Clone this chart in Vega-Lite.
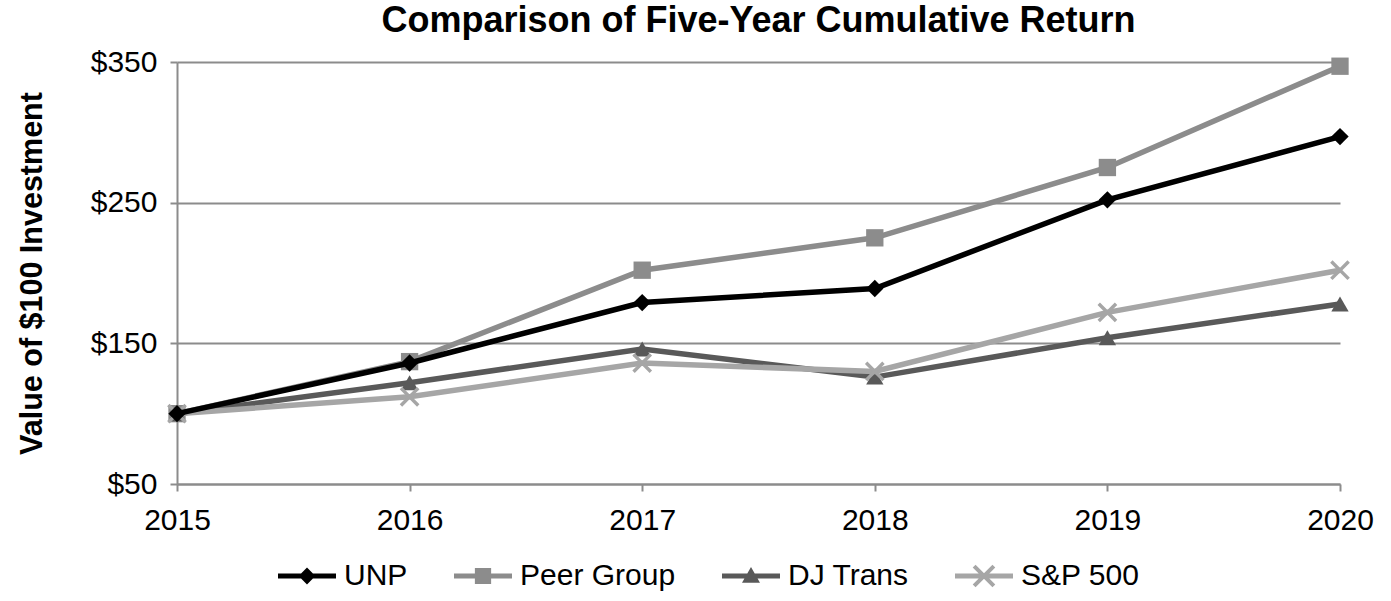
{
  "$schema": "https://vega.github.io/schema/vega-lite/v6.json",
  "autosize": "none",
  "width": 1163,
  "height": 422,
  "padding": {"left": 177, "top": 62, "right": 51, "bottom": 117},
  "background": "white",
  "config": {
    "font": "Liberation Sans",
    "view": {"stroke": null},
    "axis": {
      "labelFont": "Liberation Sans",
      "titleFont": "Liberation Sans",
      "labelColor": "#000000",
      "titleColor": "#000000",
      "domainColor": "#8c8c8c",
      "domainWidth": 2,
      "tickColor": "#8c8c8c",
      "tickWidth": 2,
      "tickSize": 7,
      "gridColor": "#8c8c8c",
      "gridWidth": 2
    },
    "legend": {
      "symbolSize": 3364,
      "symbolOpacity": 1,
      "symbolStrokeWidth": 0,
      "labelFont": "Liberation Sans",
      "labelFontSize": 30,
      "labelColor": "#000000",
      "labelOffset": 8,
      "labelLimit": 0,
      "columnPadding": 46,
      "padding": 0
    }
  },
  "title": {
    "text": "Comparison of Five-Year Cumulative Return",
    "font": "Liberation Sans",
    "fontSize": 36,
    "fontWeight": "bold",
    "color": "#000000",
    "anchor": "middle",
    "offset": 7
  },
  "data": {
    "values": [
      {"year": 2015, "series": "Peer Group", "value": 100},
      {"year": 2016, "series": "Peer Group", "value": 137},
      {"year": 2017, "series": "Peer Group", "value": 202},
      {"year": 2018, "series": "Peer Group", "value": 225},
      {"year": 2019, "series": "Peer Group", "value": 275},
      {"year": 2020, "series": "Peer Group", "value": 347},
      {"year": 2015, "series": "DJ Trans", "value": 100},
      {"year": 2016, "series": "DJ Trans", "value": 122},
      {"year": 2017, "series": "DJ Trans", "value": 146},
      {"year": 2018, "series": "DJ Trans", "value": 126},
      {"year": 2019, "series": "DJ Trans", "value": 154},
      {"year": 2020, "series": "DJ Trans", "value": 178},
      {"year": 2015, "series": "S&P 500", "value": 100},
      {"year": 2016, "series": "S&P 500", "value": 112},
      {"year": 2017, "series": "S&P 500", "value": 136},
      {"year": 2018, "series": "S&P 500", "value": 130},
      {"year": 2019, "series": "S&P 500", "value": 172},
      {"year": 2020, "series": "S&P 500", "value": 202},
      {"year": 2015, "series": "UNP", "value": 100},
      {"year": 2016, "series": "UNP", "value": 136},
      {"year": 2017, "series": "UNP", "value": 179},
      {"year": 2018, "series": "UNP", "value": 189},
      {"year": 2019, "series": "UNP", "value": 252},
      {"year": 2020, "series": "UNP", "value": 297}
    ]
  },
  "encoding": {
    "x": {
      "field": "year",
      "type": "quantitative",
      "scale": {"domain": [2015, 2020], "nice": false, "zero": false},
      "axis": {
        "title": null,
        "values": [2015, 2016, 2017, 2018, 2019, 2020],
        "format": "d",
        "grid": false,
        "labelFontSize": 30,
        "labelPadding": 14,
        "labelFlush": false
      }
    },
    "y": {
      "field": "value",
      "type": "quantitative",
      "scale": {"domain": [50, 350], "nice": false, "zero": false},
      "axis": {
        "title": "Value of $100 Investment",
        "titleFontSize": 30.5,
        "titleFontWeight": "bold",
        "titlePadding": 43,
        "values": [50, 150, 250, 350],
        "format": "$d",
        "grid": true,
        "labelFontSize": 30,
        "labelPadding": 13
      }
    }
  },
  "layer": [
    {
      "transform": [{"filter": "datum.series === 'Peer Group'"}],
      "mark": {"type": "line", "strokeWidth": 5.5, "color": "#8c8c8c"},
      "encoding": {}
    },
    {
      "transform": [{"filter": "datum.series === 'Peer Group'"}],
      "mark": {"type": "point", "filled": true, "opacity": 1, "size": 300, "shape": "square", "color": "#8c8c8c"},
      "encoding": {}
    },
    {
      "transform": [{"filter": "datum.series === 'DJ Trans'"}],
      "mark": {"type": "line", "strokeWidth": 5.5, "color": "#595959"},
      "encoding": {}
    },
    {
      "transform": [{"filter": "datum.series === 'DJ Trans'"}],
      "mark": {"type": "point", "filled": true, "opacity": 1, "size": 300, "shape": "triangle-up", "color": "#595959"},
      "encoding": {}
    },
    {
      "transform": [{"filter": "datum.series === 'S&P 500'"}],
      "mark": {"type": "line", "strokeWidth": 5.5, "color": "#a6a6a6"},
      "encoding": {}
    },
    {
      "transform": [{"filter": "datum.series === 'S&P 500'"}],
      "mark": {"type": "point", "filled": true, "opacity": 1, "size": 300, "color": "#a6a6a6", "shape": "M-0.86,-1.14L1.14,0.86L0.86,1.14L-1.14,-0.86Z M-1.14,0.86L0.86,-1.14L1.14,-0.86L-0.86,1.14Z"},
      "encoding": {}
    },
    {
      "transform": [{"filter": "datum.series === 'UNP'"}],
      "mark": {"type": "line", "strokeWidth": 5.5, "color": "#000000"},
      "encoding": {}
    },
    {
      "transform": [{"filter": "datum.series === 'UNP'"}],
      "mark": {"type": "point", "filled": true, "opacity": 1, "size": 300, "shape": "diamond", "color": "#000000"},
      "encoding": {}
    },
    {
      "mark": {"type": "point", "filled": true, "opacity": 0, "size": 3364},
      "encoding": {
        "color": {
          "field": "series",
          "type": "nominal",
          "scale": {
            "domain": ["UNP", "Peer Group", "DJ Trans", "S&P 500"],
            "range": ["#000000", "#8c8c8c", "#595959", "#a6a6a6"]
          },
          "legend": {
            "title": null,
            "orient": "none",
            "legendX": 101,
            "legendY": 485,
            "direction": "horizontal"
          }
        },
        "shape": {
          "field": "series",
          "type": "nominal",
          "scale": {
            "domain": ["UNP", "Peer Group", "DJ Trans", "S&P 500"],
            "range": [
              "M-1,-0.086H1V0.086H-1Z M0,-0.29L0.29,0L0,0.29L-0.29,0Z",
              "M-1,-0.086H1V0.086H-1Z M-0.28,-0.28H0.28V0.28H-0.28Z",
              "M-1,-0.086H1V0.086H-1Z M0,-0.31L0.31,0.23H-0.31Z",
              "M-1,-0.086H1V0.086H-1Z M-0.291,-0.389L0.389,0.291L0.291,0.389L-0.389,-0.291Z M-0.389,0.291L0.291,-0.389L0.389,-0.291L-0.291,0.389Z"
            ]
          },
          "legend": {
            "title": null,
            "orient": "none",
            "legendX": 101,
            "legendY": 485,
            "direction": "horizontal"
          }
        }
      }
    }
  ]
}
